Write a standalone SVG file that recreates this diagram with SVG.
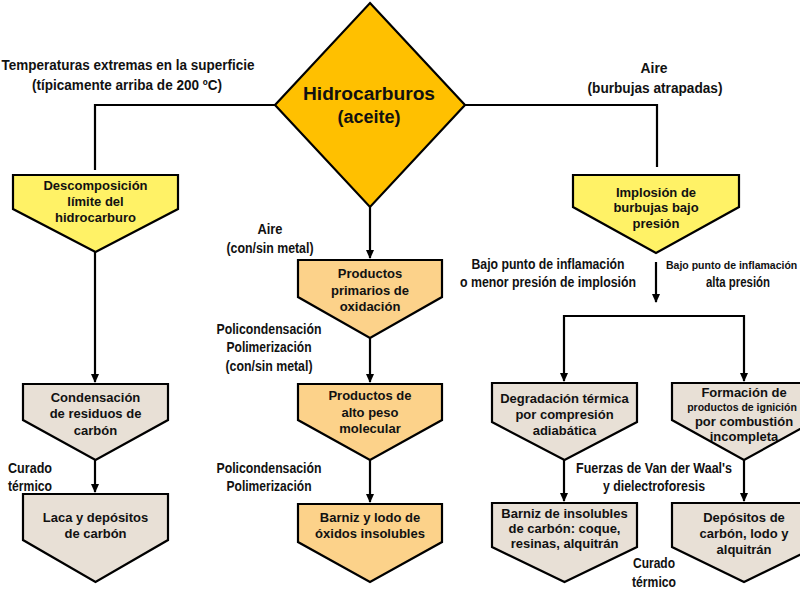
<svg xmlns="http://www.w3.org/2000/svg" width="800" height="600" viewBox="0 0 800 600">
<defs>
<marker id="ah" markerWidth="10" markerHeight="10" refX="8" refY="5" orient="auto" markerUnits="userSpaceOnUse">
<path d="M0,1 L9,5 L0,9 Z" fill="#000"/>
</marker>
<style>
.node{stroke:#000;stroke-width:2.2;stroke-linejoin:miter}
.yel{fill:#FFF266}
.org{fill:#FCD28A}
.bei{fill:#E8E0D6}
.dia{fill:#FFC000}
.nt{font-family:"Liberation Sans",Arial,sans-serif;font-weight:bold;font-size:13px;text-anchor:middle;fill:#111}
.lb{font-family:"Liberation Sans",Arial,sans-serif;font-weight:bold;font-size:14px;text-anchor:middle;fill:#111}
.ll{font-family:"Liberation Sans",Arial,sans-serif;font-weight:bold;font-size:14px;text-anchor:start;fill:#111}
.con{fill:none;stroke:#000;stroke-width:2.2}
</style>
</defs>
<rect width="800" height="600" fill="#fff"/>

<g id="connectors">
<path class="con" d="M275,105 H95 V170"/>
<path class="con" d="M465,105 H657 V167"/>
<path class="con" d="M370,207 V258" marker-end="url(#ah)"/>
<path class="con" d="M95,252 V382" marker-end="url(#ah)"/>
<path class="con" d="M370,338 V382" marker-end="url(#ah)"/>
<path class="con" d="M370,460 V502" marker-end="url(#ah)"/>
<path class="con" d="M95,460 V492" marker-end="url(#ah)"/>
<path class="con" d="M656,262 V302" marker-end="url(#ah)"/>
<path class="con" d="M654,316 H564 V381" marker-end="url(#ah)"/>
<path class="con" d="M654,316 H744 V381" marker-end="url(#ah)"/>
<path class="con" d="M564,460 V501" marker-end="url(#ah)"/>
<path class="con" d="M744,460 V501" marker-end="url(#ah)"/>
</g>

<g id="labels">
<text class="lb" x="128" y="70" textLength="253" lengthAdjust="spacingAndGlyphs">Temperaturas extremas en la superficie</text>
<text class="lb" x="127" y="90" textLength="190" lengthAdjust="spacingAndGlyphs">(típicamente arriba de 200 ºC)</text>
<text class="lb" x="654" y="73" textLength="27" lengthAdjust="spacingAndGlyphs">Aire</text>
<text class="lb" x="655" y="93" textLength="135" lengthAdjust="spacingAndGlyphs">(burbujas atrapadas)</text>
<text class="lb" x="270" y="234" textLength="25" lengthAdjust="spacingAndGlyphs">Aire</text>
<text class="lb" x="270" y="253" textLength="87" lengthAdjust="spacingAndGlyphs">(con/sin metal)</text>
<text class="lb" x="269" y="334" textLength="105" lengthAdjust="spacingAndGlyphs">Policondensación</text>
<text class="lb" x="269" y="352" textLength="85" lengthAdjust="spacingAndGlyphs">Polimerización</text>
<text class="lb" x="269" y="371" textLength="87" lengthAdjust="spacingAndGlyphs">(con/sin metal)</text>
<text class="lb" x="269" y="473" textLength="105" lengthAdjust="spacingAndGlyphs">Policondensación</text>
<text class="lb" x="269" y="491" textLength="85" lengthAdjust="spacingAndGlyphs">Polimerización</text>
<text class="ll" x="8" y="473" textLength="44" lengthAdjust="spacingAndGlyphs">Curado</text>
<text class="ll" x="8" y="491" textLength="44" lengthAdjust="spacingAndGlyphs">térmico</text>
<text class="lb" x="548" y="269" textLength="153" lengthAdjust="spacingAndGlyphs">Bajo punto de inflamación</text>
<text class="lb" x="548" y="287" textLength="176" lengthAdjust="spacingAndGlyphs">o menor presión de implosión</text>
<text class="ll" x="666" y="269" style="font-size:10.5px">Bajo punto de inflamación</text>
<text class="lb" x="738" y="287" textLength="64" lengthAdjust="spacingAndGlyphs">alta presión</text>
<text class="lb" x="654" y="473" textLength="156" lengthAdjust="spacingAndGlyphs">Fuerzas de Van der Waal's</text>
<text class="lb" x="654" y="491" textLength="102" lengthAdjust="spacingAndGlyphs">y dielectroforesis</text>
<text class="lb" x="654" y="568" textLength="42" lengthAdjust="spacingAndGlyphs">Curado</text>
<text class="lb" x="654" y="587" textLength="44" lengthAdjust="spacingAndGlyphs">térmico</text>
</g>

<g id="hidrocarburos">
<path class="node dia" d="M370,3 L465,105 L370,207 L275,105 Z"/>
<text class="nt" style="font-size:18px" x="369" y="100" textLength="132" lengthAdjust="spacingAndGlyphs">Hidrocarburos</text>
<text class="nt" style="font-size:18px" x="369" y="123">(aceite)</text>
</g>

<g id="descomposicion">
<path class="node yel" d="M13,175 H178 V209 L95.5,252 L13,209 Z"/>
<text class="nt" x="95.5" y="190">Descomposición</text>
<text class="nt" x="95.5" y="206">límite del</text>
<text class="nt" x="95.5" y="222">hidrocarburo</text>
</g>

<g id="implosion">
<path class="node yel" d="M573,175 H739 V207 L656,253 L573,207 Z"/>
<text class="nt" x="656" y="197">Implosión de</text>
<text class="nt" x="656" y="212">burbujas bajo</text>
<text class="nt" x="656" y="228">presión</text>
</g>

<g id="primarios">
<path class="node org" d="M298,260 H442 V297 L370,338 L298,297 Z"/>
<text class="nt" x="370" y="278">Productos</text>
<text class="nt" x="370" y="295">primarios de</text>
<text class="nt" x="370" y="311">oxidación</text>
</g>

<g id="altopeso">
<path class="node org" d="M298,384 H442 V420 L370,460 L298,420 Z"/>
<text class="nt" x="370" y="400">Productos de</text>
<text class="nt" x="370" y="417">alto peso</text>
<text class="nt" x="370" y="433">molecular</text>
</g>

<g id="barnizlodo">
<path class="node org" d="M298,504 H442 V542 L370,582 L298,542 Z"/>
<text class="nt" x="370" y="522">Barniz y lodo de</text>
<text class="nt" x="370" y="538">óxidos insolubles</text>
</g>

<g id="condensacion">
<path class="node bei" d="M23,384 H168 V420 L95.5,460 L23,420 Z"/>
<text class="nt" x="95.5" y="402">Condensación</text>
<text class="nt" x="95.5" y="418">de residuos de</text>
<text class="nt" x="95.5" y="435">carbón</text>
</g>

<g id="laca">
<path class="node bei" d="M23,494 H168 V540 L95.5,582 L23,540 Z"/>
<text class="nt" x="95.5" y="522">Laca y depósitos</text>
<text class="nt" x="95.5" y="538">de carbón</text>
</g>

<g id="degradacion">
<path class="node bei" d="M492,383 H637 V422 L564.5,460 L492,422 Z"/>
<text class="nt" x="564.5" y="403">Degradación térmica</text>
<text class="nt" x="564.5" y="419">por compresión</text>
<text class="nt" x="564.5" y="435">adiabática</text>
</g>

<g id="formacion">
<path class="node bei" d="M672,383 H816 V420 L744,460 L672,420 Z"/>
<text class="nt" x="744" y="397">Formación de</text>
<text class="nt" x="742" y="411" style="font-size:10.5px">productos de ignición</text>
<text class="nt" x="744" y="426">por combustión</text>
<text class="nt" x="744" y="441">incompleta</text>
</g>

<g id="barnizinsolubles">
<path class="node bei" d="M492,503 H637 V547 L564.5,582 L492,547 Z"/>
<text class="nt" x="564.5" y="518">Barniz de insolubles</text>
<text class="nt" x="564.5" y="533">de carbón: coque,</text>
<text class="nt" x="564.5" y="548">resinas, alquitrán</text>
</g>

<g id="depositos">
<path class="node bei" d="M672,503 H816 V547 L744,582 L672,547 Z"/>
<text class="nt" x="744" y="522">Depósitos de</text>
<text class="nt" x="744" y="538">carbón, lodo y</text>
<text class="nt" x="744" y="554">alquitrán</text>
</g>
</svg>
